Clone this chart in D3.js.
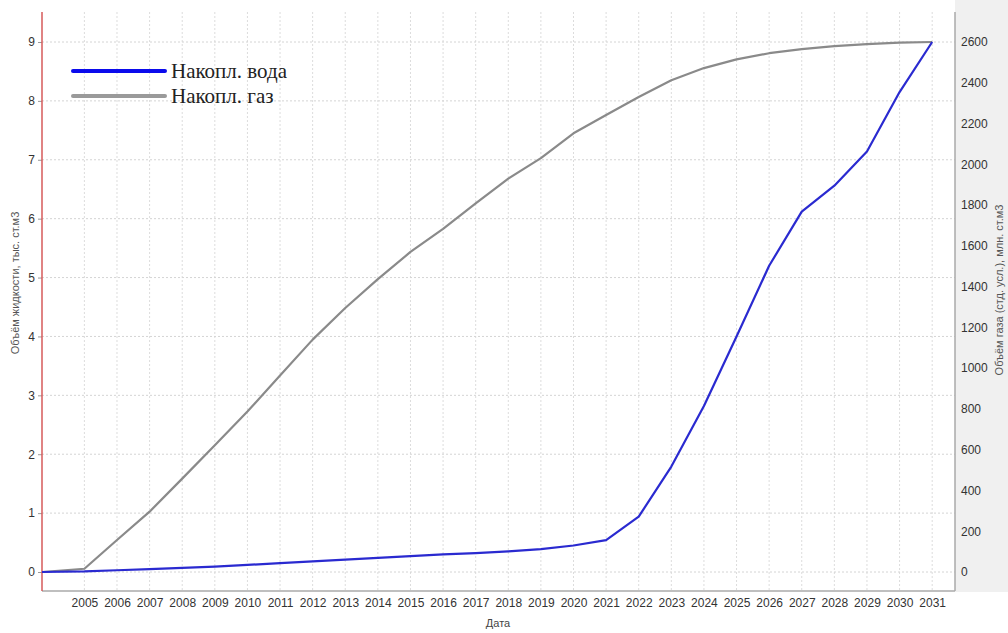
<!DOCTYPE html>
<html><head><meta charset="utf-8">
<script src="https://cdn.jsdelivr.net/npm/d3@7"></script>
<style>
body{margin:0;background:#fff;}
svg{display:block;font-family:Arial,"Liberation Sans",sans-serif;}
</style></head>
<body><svg id="c" width="1008" height="633"></svg>
<script>
const years = [2003.7,2005,2006,2007,2008,2009,2010,2011,2012,2013,2014,2015,2016,2017,2018,2019,2020,2021,2022,2023,2024,2025,2026,2027,2028,2029,2030,2031];
const water = [0,0.01,0.03,0.05,0.07,0.09,0.12,0.15,0.18,0.21,0.24,0.27,0.30,0.32,0.35,0.39,0.45,0.54,0.94,1.79,2.82,4.0,5.2,6.12,6.56,7.14,8.15,9.0];
const gas = [0,16,157,296,458,622,787,964,1140,1295,1437,1570,1683,1808,1930,2030,2152,2242,2330,2412,2472,2515,2545,2565,2580,2590,2597,2600];
const xTicks = d3.range(2005,2032);
const leftTicks = [0,1,2,3,4,5,6,7,8,9];
const rightTicks = [0,200,400,600,800,1000,1200,1400,1600,1800,2000,2200,2400,2600];
const seriesNames = ["Накопл. вода","Накопл. газ"];
const leftLabel = "Объём жидкости, тыс. ст.м3";
const rightLabel = "Объём газа (стд. усл.), млн. ст.м3";
const xLabel = "Дата";

const svg = d3.select("#c");
const L=42, R=955, T=12, B=591;
const x = d3.scaleLinear().domain([2003.7,2031.7]).range([L,R]);
const yL = d3.scaleLinear().domain([0,9]).range([572,42]);
const yR = d3.scaleLinear().domain([0,2600]).range([572,42]);

svg.append("rect").attr("x",R).attr("y",0).attr("width",1008-R).attr("height",B+1).attr("fill","#f0f0f0");

const g = svg.append("g");
g.selectAll("line.v").data(xTicks).join("line")
 .attr("x1",d=>x(d)).attr("x2",d=>x(d)).attr("y1",T).attr("y2",B)
 .attr("stroke","#dcdcdc").attr("stroke-dasharray","2,2");
g.selectAll("line.h").data(leftTicks).join("line")
 .attr("x1",L).attr("x2",R).attr("y1",d=>yL(d)).attr("y2",d=>yL(d))
 .attr("stroke","#d4d4d4").attr("stroke-dasharray","2,2");

const axL = d3.axisLeft(yL).tickValues(leftTicks).tickSize(4).tickPadding(3).tickFormat(d3.format("d"));
const gl = svg.append("g").attr("transform",`translate(${L},0)`).call(axL);
gl.select(".domain").remove();
gl.selectAll("line").attr("stroke","#999");
gl.selectAll("text").attr("font-size",12).attr("fill","#333").style("font-family","Arial,'Liberation Sans',sans-serif");

const axR = d3.axisRight(yR).tickValues(rightTicks).tickSize(0).tickPadding(6).tickFormat(d3.format("d"));
const gr = svg.append("g").attr("transform",`translate(${R},0)`).call(axR);
gr.select(".domain").remove();
gr.selectAll("text").attr("font-size",12).attr("fill","#333").style("font-family","Arial,'Liberation Sans',sans-serif");

const axB = d3.axisBottom(x).tickValues(xTicks).tickSize(0).tickPadding(7).tickFormat(d3.format("d"));
const gb = svg.append("g").attr("transform",`translate(0,${B})`).call(axB);
gb.select(".domain").remove();
gb.selectAll("text").attr("font-size",12).attr("fill","#333").style("font-family","Arial,'Liberation Sans',sans-serif");

svg.append("line").attr("x1",L).attr("x2",R).attr("y1",B).attr("y2",B).attr("stroke","#aaa").attr("stroke-width",1.5);
svg.append("line").attr("x1",R).attr("x2",R).attr("y1",T).attr("y2",B).attr("stroke","#aaa").attr("stroke-width",1.5);
svg.append("line").attr("x1",L).attr("x2",L).attr("y1",T).attr("y2",B).attr("stroke","#d65a5a").attr("stroke-width",1.5);

const idx = d3.range(years.length);
svg.append("path").datum(idx)
 .attr("d",d3.line().x(i=>x(years[i])).y(i=>yR(gas[i])))
 .attr("fill","none").attr("stroke","#8a8a8a").attr("stroke-width",2.2).attr("stroke-linejoin","round");
svg.append("path").datum(idx)
 .attr("d",d3.line().x(i=>x(years[i])).y(i=>yL(water[i])))
 .attr("fill","none").attr("stroke","#2a2ad0").attr("stroke-width",2.2).attr("stroke-linejoin","round");

const leg = svg.append("g");
const legColors = ["#0b0bec","#9a9a9a"];
seriesNames.forEach((n,i)=>{
  const yy = 71 + i*25;
  leg.append("line").attr("x1",73).attr("x2",165).attr("y1",yy).attr("y2",yy)
   .attr("stroke",legColors[i]).attr("stroke-width",4).attr("stroke-linecap","round");
  leg.append("text").attr("x",171).attr("y",yy+7).text(n)
   .style("font-family","'Liberation Serif','Times New Roman',serif").attr("font-size",21).attr("fill","#222");
});

svg.append("text").attr("transform","translate(19,283) rotate(-90)").attr("text-anchor","middle")
 .attr("font-size",11).attr("fill","#555").text(leftLabel);
svg.append("text").attr("transform","translate(1003,290) rotate(-90)").attr("text-anchor","middle")
 .attr("font-size",11).attr("fill","#555").text(rightLabel);
svg.append("text").attr("x",498).attr("y",627).attr("text-anchor","middle")
 .attr("font-size",11).attr("fill","#444").text(xLabel);
</script></body></html>
